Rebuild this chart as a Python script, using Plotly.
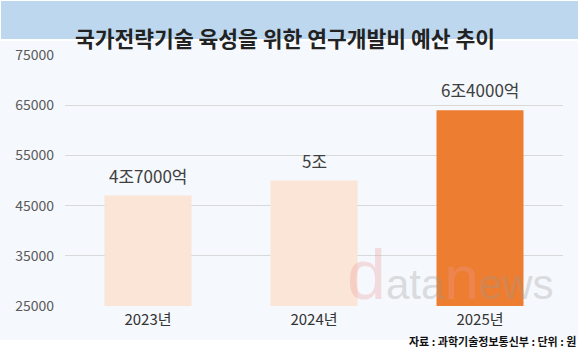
import plotly.graph_objects as go

years = ["2023년", "2024년", "2025년"]
values = [47000, 50000, 64000]
labels = ["4조7000억", "5조", "6조4000억"]
bar_colors = ["#FBE5D6", "#FBE5D6", "#ED7D31"]
tick_vals = [25000, 35000, 45000, 55000, 65000, 75000]
tick_text = ["25000", "35000", "45000", "55000", "65000", "75000"]

FONT = "Noto Sans CJK KR"
W, H = 580, 361
L, R, T, B = 65, 17, 55, 55
PW, PH = W - L - R, H - T - B


def px(x):
    return (x - L) / PW


def py(y):
    return (H - B - y) / PH


fig = go.Figure()
fig.add_trace(go.Bar(
    x=years, y=values, marker=dict(color=bar_colors, line=dict(width=0)),
    hoverinfo="skip", showlegend=False,
))

for x, v, t in zip(years, values, labels):
    fig.add_annotation(x=x, y=v, text=t, showarrow=False, yanchor="bottom",
                       yshift=6, font=dict(family=FONT, size=17, color="#404040"))

# title banner and panel
fig.add_shape(type="rect", xref="paper", yref="paper", x0=px(1), x1=px(578), y0=py(39), y1=py(1),
              fillcolor="#BDD7EE", line=dict(width=0), layer="below")
fig.add_shape(type="rect", xref="paper", yref="paper", x0=px(0), x1=px(578), y0=py(340), y1=py(41),
              fillcolor="#F5F8FC", line=dict(width=0), layer="below")

fig.add_annotation(xref="paper", yref="paper", x=px(285), y=py(20), text="<b>국가전략기술 육성을 위한 연구개발비 예산 추이</b>",
                   showarrow=False, font=dict(family=FONT, size=21.5, color="#222222"))
fig.add_annotation(xref="paper", yref="paper", x=px(578), y=py(351), xanchor="right",
                   text="<b>자료 : 과학기술정보통신부 : 단위 : 원</b>", showarrow=False,
                   font=dict(family=FONT, size=11, color="#111111"))
# watermark
fig.add_annotation(xref="paper", yref="paper", x=px(345), y=py(316), xanchor="left", yanchor="bottom",
                   text=("<span style='font-size:70px;color:#EE9A9A'>d</span>ata"
                         "<span style='font-size:62px;color:#EE9A9A'>n</span>ews"),
                   showarrow=False, opacity=0.3,
                   font=dict(family="Liberation Sans", size=42, color="#9A9A9A"))

fig.update_layout(
    width=W, height=H,
    margin=dict(l=L, r=R, t=T, b=B),
    paper_bgcolor="white", plot_bgcolor="rgba(0,0,0,0)",
    bargap=0.476,
    xaxis=dict(tickfont=dict(family=FONT, size=15, color="#333333"), showgrid=False,
               showline=False, ticks="", automargin=False, ticklabelstandoff=3),
    yaxis=dict(range=[25000, 75000], tickvals=tick_vals, ticktext=tick_text, showgrid=True,
               gridcolor="#D9D9D9", gridwidth=1, zeroline=False, ticklabelstandoff=10,
               automargin=False, tickfont=dict(family=FONT, size=14, color="#5A5A5A")),
)
fig.write_html("out.html", post_script="document.body.style.margin='0px';",
               config={"displayModeBar": False})
